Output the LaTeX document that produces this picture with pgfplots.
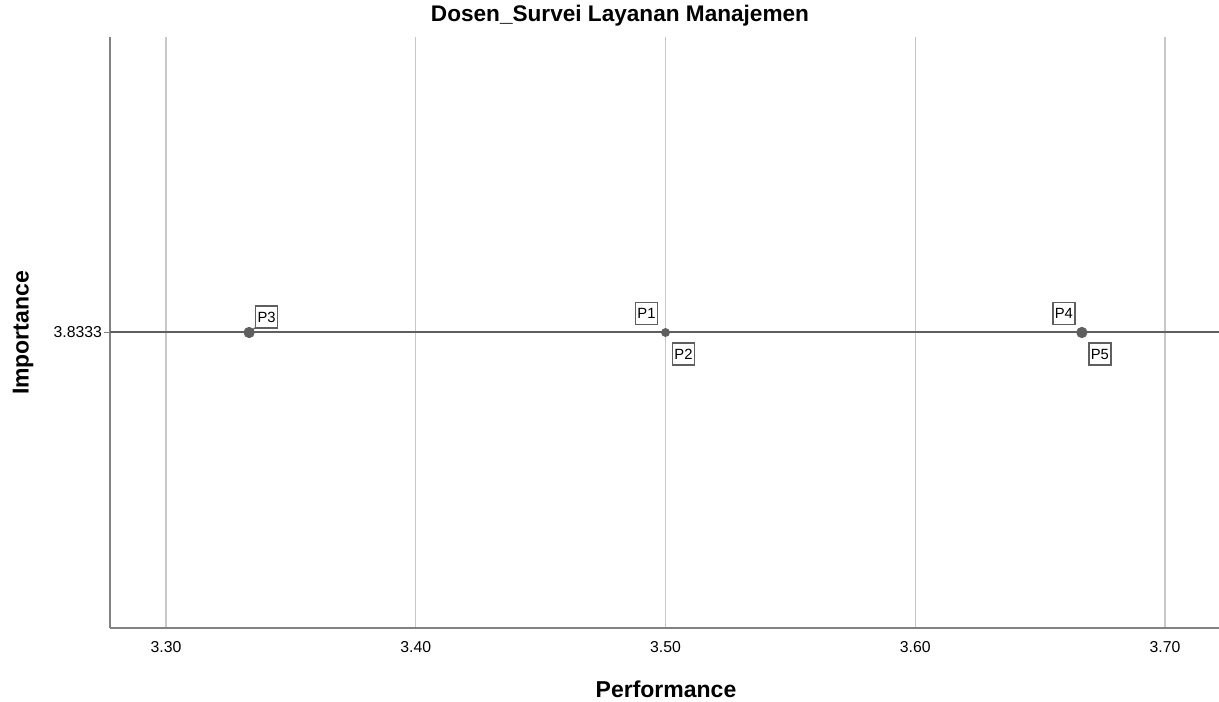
\documentclass[border=0pt]{standalone}
\usepackage{pgfplots}
\pgfplotsset{compat=1.18}
\usepackage{fontspec}
\setmainfont{Liberation Sans}
\definecolor{gridc}{RGB}{200,200,200}
\definecolor{linec}{RGB}{95,95,95}
\definecolor{spinec}{RGB}{130,130,130}
\tikzset{lbl/.style={draw=linec, fill=white, line width=0.7pt, inner sep=1pt,
    minimum width=11pt, minimum height=11pt, font=\fontsize{7.4}{8}\selectfont}}
\begin{document}
\begin{tikzpicture}
\path[use as bounding box] (0,0) rectangle (609.5pt,350.5pt);
\begin{axis}[
  at={(55pt,36.5pt)}, anchor=south west,
  scale only axis, width=554.5pt, height=295.5pt,
  xmin=3.2776, xmax=3.7216, ymin=3.3333, ymax=4.3333,
  axis x line*=bottom, axis y line*=left,
  axis line style={-, spinec, line width=0.9pt},
  xtick={3.3,3.4,3.5,3.6,3.7},
  xticklabels={3.30,3.40,3.50,3.60,3.70},
  ytick={3.8333}, yticklabels={3.8333},
  xmajorgrids, grid style={gridc, line width=0.6pt},
  tick align=outside, major tick length=3pt,
  xtick style={draw=none}, ytick style={spinec, line width=0.6pt},
  tick label style={font=\fontsize{7.9}{9}\selectfont, text=black},
  xticklabel style={yshift=0pt},
  yticklabel style={xshift=2.5pt},
  /pgf/number format/assume math mode=true,
  clip=false,
]
\addplot[linec, line width=1pt, forget plot] coordinates {(3.2776,3.8333) (3.7216,3.8333)};
\draw[linec, line width=0.6pt] (axis cs:3.3333,3.8333) -- ++(4.5pt,3.5pt);
\addplot[only marks, mark=*, mark size=2.6pt, mark options={fill=linec, draw=linec}] coordinates {(3.3333,3.8333) (3.6667,3.8333)};
\addplot[only marks, mark=*, mark size=2pt, mark options={fill=linec, draw=linec}] coordinates {(3.5,3.8333)};
\node[lbl] at (axis cs:3.3333,3.8333) [xshift=8.75pt, yshift=7.75pt] {P3};
\node[lbl] at (axis cs:3.5,3.8333) [xshift=-9.5pt, yshift=9.5pt] {P1};
\node[lbl] at (axis cs:3.5,3.8333) [xshift=9pt, yshift=-10.75pt] {P2};
\node[lbl] at (axis cs:3.6667,3.8333) [xshift=-9pt, yshift=9.5pt] {P4};
\node[lbl] at (axis cs:3.6667,3.8333) [xshift=9pt, yshift=-10.75pt] {P5};
\end{axis}
\node[font=\bfseries\fontsize{11.3}{13}\selectfont] at (310pt,342.5pt) {Dosen\_Survei Layanan Manajemen};
\node[font=\bfseries\fontsize{11.5}{13}\selectfont] at (333pt,6pt) {Performance};
\node[font=\bfseries\fontsize{11.5}{13}\selectfont, rotate=90] at (11.5pt,184pt) {Importance};
\end{tikzpicture}
\end{document}
